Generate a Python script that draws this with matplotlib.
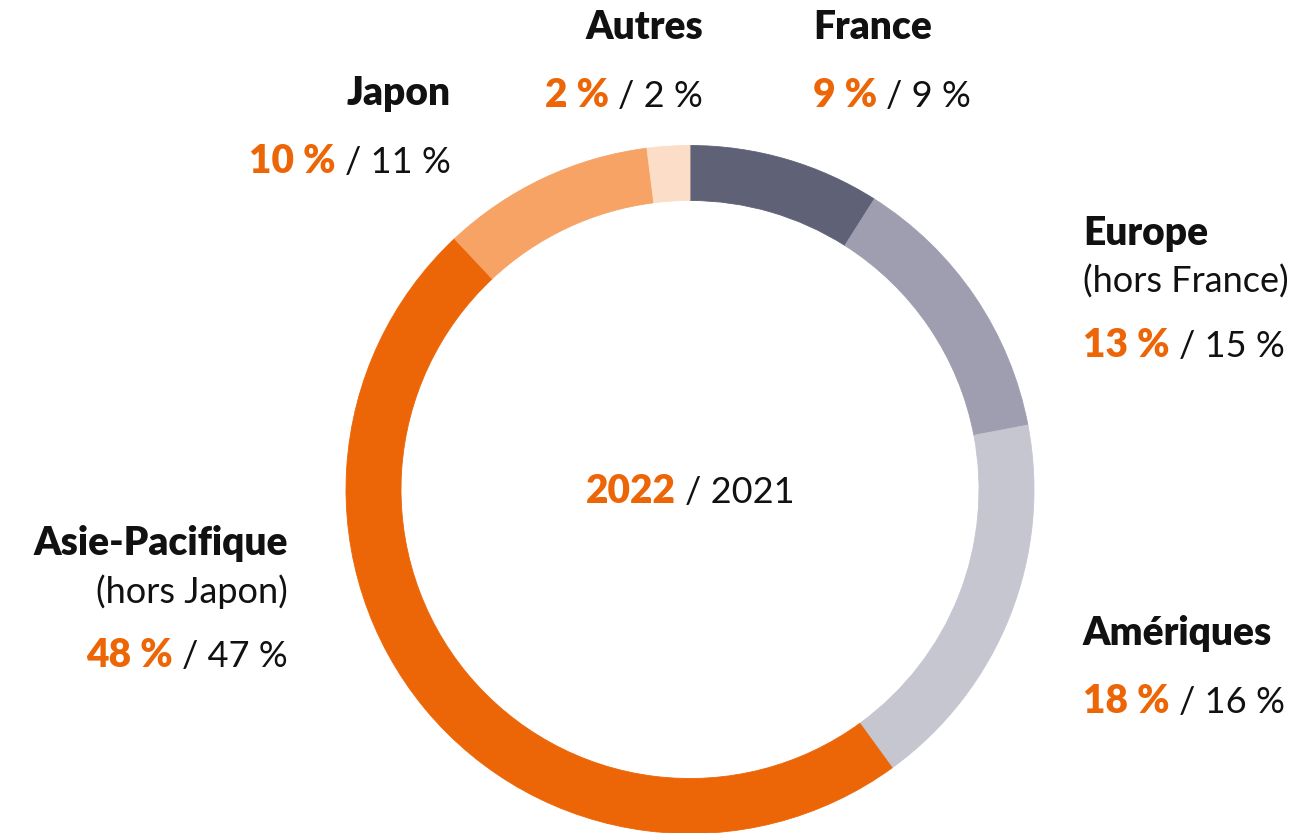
import matplotlib
matplotlib.use("Agg")
import matplotlib.pyplot as plt

plt.rcParams['font.family'] = ['Lato', 'DejaVu Sans']

# données (part du chiffre d'affaires par zone)
zones = ["France", "Europe", "Amériques", "Asie-Pacifique", "Japon", "Autres"]
sous_titres = ["", "(hors France)", "", "(hors Japon)", "", ""]
parts_2022 = [9, 13, 18, 48, 10, 2]
parts_2021 = [9, 15, 16, 47, 11, 2]
couleurs = ["#5F6177", "#9E9EB0", "#C6C6D1", "#EC6608", "#F6A365", "#FCDEC8"]

ORANGE = "#EC6608"
NOIR = "#111111"
W, H = 1299, 833
FS = 26
FSB = 28
GRAS = "heavy"

fig = plt.figure(figsize=(W / 100, H / 100), dpi=100)
ax = fig.add_axes([0, 0, 1, 1])

wedges, _ = ax.pie(parts_2022, colors=couleurs, startangle=90, counterclock=False,
                   center=(690, H - 489.5), radius=344,
                   wedgeprops=dict(width=55, linewidth=0.6))
for w in wedges:
    w.set_edgecolor(w.get_facecolor())
ax.set_xlim(0, W)
ax.set_ylim(0, H)
ax.set_aspect('auto')
ax.axis("off")

renderer = fig.canvas.get_renderer()


def largeur(t):
    bb = t.get_window_extent(renderer)
    return bb.x0, bb.x1


def deux_couleurs(x, y, gras, fin, ha):
    # texte orange gras suivi du texte noir, sur la même ligne de base
    gap = 9
    if ha == "left":
        t1 = ax.text(x, H - y, gras, color=ORANGE, fontsize=FSB, fontweight=GRAS,
                     ha="left", va="baseline")
        x1 = largeur(t1)[1]
        ax.text(x1 + gap, H - y, fin, color=NOIR, fontsize=FS, ha="left", va="baseline")
    elif ha == "right":
        t2 = ax.text(x, H - y, fin, color=NOIR, fontsize=FS, ha="right", va="baseline")
        x0 = largeur(t2)[0]
        ax.text(x0 - gap, H - y, gras, color=ORANGE, fontsize=FSB, fontweight=GRAS,
                ha="right", va="baseline")
    else:
        t1 = ax.text(0, H - y, gras, color=ORANGE, fontsize=FSB, fontweight=GRAS,
                     ha="left", va="baseline")
        t2 = ax.text(0, H - y, fin, color=NOIR, fontsize=FS, ha="left", va="baseline")
        a0, a1 = largeur(t1)
        b0, b1 = largeur(t2)
        total = (a1 - a0) + gap + (b1 - b0)
        start = x - total / 2
        t1.set_x(start)
        t2.set_x(start + (a1 - a0) + gap)


# position des étiquettes : (x, ligne de base du titre, alignement)
positions = [
    (813, 39, "left"),
    (1083, 245, "left"),
    (1083, 645, "left"),
    (288, 555, "right"),
    (451, 105, "right"),
    (703, 39, "right"),
]

for zone, st, p22, p21, (x, y, ha) in zip(zones, sous_titres, parts_2022, parts_2021, positions):
    ax.text(x, H - y, zone, fontsize=FSB, fontweight=GRAS, color=NOIR,
            ha=ha, va="baseline")
    if st:
        ax.text(x, H - (y + 48), st, fontsize=FS, color=NOIR, ha=ha, va="baseline")
        yv = y + 112
    else:
        yv = y + 68
    deux_couleurs(x, yv, f"{p22} %", f"/ {p21} %", ha)

deux_couleurs(690, 503, "2022", "/ 2021", "center")

fig.savefig("out.png", dpi=100)
